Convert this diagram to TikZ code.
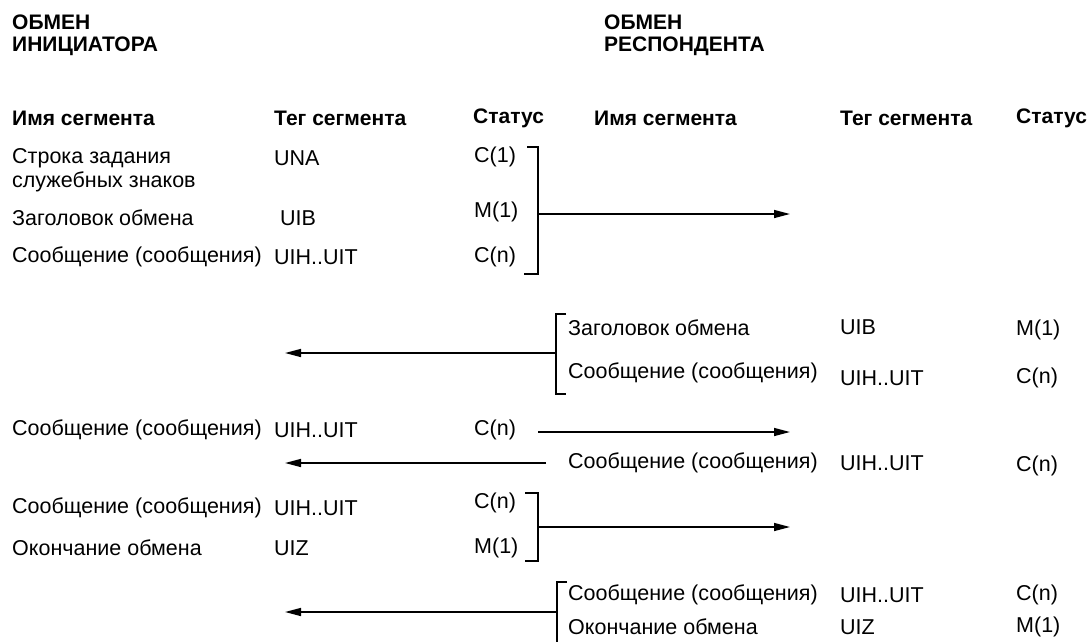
\documentclass[tikz,border=0pt]{standalone}
\usepackage{fontspec}
\setmainfont{Liberation Sans}
\usetikzlibrary{arrows.meta}
\begin{document}
\begin{tikzpicture}[x=1pt,y=-1pt,
  txt/.style={anchor=west,inner sep=0pt,font=\fontsize{21.5}{23}\selectfont},
  hdr/.style={txt,font=\fontsize{21}{23}\selectfont\bfseries},
  brk/.style={line width=1.5pt},
  arr/.style={line width=1.5pt,-{Triangle[length=16pt,width=8pt]}}]
\useasboundingbox (0,0) rectangle (1090,641);
% titles
\node[hdr] (t1a) at (12,22) {ОБМЕН};
\node[hdr] (t1b) at (12,46) {ИНИЦИАТОРА};
\node[hdr] (t2a) at (604,22) {ОБМЕН};
\node[hdr] (t2b) at (604,46) {РЕСПОНДЕНТА};
% headers
\node[hdr] (h1) at (12,118) {Имя сегмента};
\node[hdr] (h2) at (274,118) {Тег сегмента};
\node[hdr] (h3) at (473,118) {Статус};
\node[hdr] (h4) at (594,118) {Имя сегмента};
\node[hdr] (h5) at (840,118) {Тег сегмента};
\node[hdr] (h6) at (1016,118) {Статус};
% group 1
\node[txt] (a1) at (12,158) {Строка задания};
\node[txt] (a1b) at (12,182) {служебных знаков};
\node[txt] (a1t) at (274,158) {UNA};
\node[txt] (a1s) at (474,157) {C(1)};
\node[txt] (a2) at (12,218) {Заголовок обмена};
\node[txt] (a2t) at (280,218) {UIB};
\node[txt] (a2s) at (474,212) {M(1)};
\node[txt] (a3) at (12,257) {Сообщение (сообщения)};
\node[txt] (a3t) at (274,257) {UIH..UIT};
\node[txt] (a3s) at (474,257) {C(n)};
\coordinate (b1t) at (538,147);
\coordinate (b1b) at (538,274);
\coordinate (b1m) at (538,214);
\coordinate (e1) at (790,214);
\draw[brk] (527,147) -- (b1t) -- (b1b) -- (524,274);
\draw[arr] (b1m) -- (e1);
% group 2
\node[txt] (r1) at (568,328) {Заголовок обмена};
\node[txt] (r1t) at (840,327) {UIB};
\node[txt] (r1s) at (1016,330) {M(1)};
\node[txt] (r2) at (568,373) {Сообщение (сообщения)};
\node[txt] (r2t) at (840,378) {UIH..UIT};
\node[txt] (r2s) at (1016,378) {C(n)};
\coordinate (b2t) at (556,314);
\coordinate (b2b) at (556,394);
\coordinate (b2m) at (556,353);
\coordinate (e2) at (285,353);
\draw[brk] (566,314) -- (b2t) -- (b2b) -- (566,394);
\draw[arr] (b2m) -- (e2);
% group 3
\node[txt] (a4) at (12,430) {Сообщение (сообщения)};
\node[txt] (a4t) at (274,430) {UIH..UIT};
\node[txt] (a4s) at (474,430) {C(n)};
\coordinate (s3) at (538,432);
\coordinate (e3) at (790,432);
\draw[arr] (s3) -- (e3);
% group 4
\node[txt] (r3) at (568,463) {Сообщение (сообщения)};
\node[txt] (r3t) at (840,463) {UIH..UIT};
\node[txt] (r3s) at (1016,466) {C(n)};
\coordinate (s4) at (546,463);
\coordinate (e4) at (285,463);
\draw[arr] (s4) -- (e4);
% group 5
\node[txt] (a5) at (12,508) {Сообщение (сообщения)};
\node[txt] (a5t) at (274,508) {UIH..UIT};
\node[txt] (a5s) at (474,503) {C(n)};
\node[txt] (a6) at (12,548) {Окончание обмена};
\node[txt] (a6t) at (274,548) {UIZ};
\node[txt] (a6s) at (474,548) {M(1)};
\coordinate (b3t) at (538,493);
\coordinate (b3b) at (538,561);
\coordinate (b3m) at (538,527);
\coordinate (e5) at (790,527);
\draw[brk] (525,493) -- (b3t) -- (b3b) -- (525,561);
\draw[arr] (b3m) -- (e5);
% group 6
\node[txt] (r4) at (568,595) {Сообщение (сообщения)};
\node[txt] (r4t) at (840,595) {UIH..UIT};
\node[txt] (r4s) at (1016,595) {C(n)};
\node[txt] (r5) at (568,627) {Окончание обмена};
\node[txt] (r5t) at (840,627) {UIZ};
\node[txt] (r5s) at (1016,627) {M(1)};
\coordinate (b4t) at (557,582);
\coordinate (b4b) at (557,645);
\coordinate (b4m) at (557,612);
\coordinate (e6) at (285,612);
\draw[brk] (567,582) -- (b4t) -- (b4b);
\draw[arr] (b4m) -- (e6);
\end{tikzpicture}
\end{document}
